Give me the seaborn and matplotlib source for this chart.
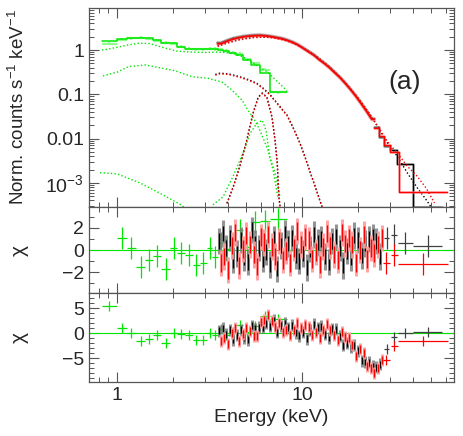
import matplotlib
matplotlib.use("Agg")
import matplotlib.pyplot as plt
import seaborn as sns
from matplotlib.ticker import FixedLocator, NullFormatter

# ---- green detector (soft band): bin edges, data, model, residuals ----
green_edges = [0.83, 1.0, 1.13, 1.27, 1.42, 1.57, 1.74, 1.93, 2.12, 2.32, 2.56, 2.81,
               3.06, 3.28, 3.5, 3.76, 4.05, 4.4, 4.8, 5.3, 5.9, 6.7, 8.3]
green_model = [1.62, 1.74, 1.87, 1.87, 1.87, 1.68, 1.42, 1.42, 1.19, 1.07, 1.07, 1.07,
               1.07, 1.07, 1.02, 0.95, 0.86, 0.78, 0.60, 0.45, 0.31, 0.115]
green_data = [1.40, 1.70, 1.85, 1.90, 1.82, 1.62, 1.45, 1.38, 1.18, 1.08, 1.05, 1.04,
              1.08, 1.06, 1.04, 0.96, 0.87, 0.82, 0.62, 0.50, 0.36, 0.11]
green_chi_a = [5.2, 1.05, 0.18, -1.58, -0.94, -0.58, -1.73, 0.18, -0.27, -0.43, -1.34, -1.18,
               0.18, -0.61, 0.6, 0.1, 0.5, 1.8, 0.3, 2.5, 2.6, 2.85]
green_chi_b = [5.46, 1.06, 0.13, -1.6, -1.07, -0.4, -1.87, 0.13, -0.13, -0.27, -1.27, -1.27,
               0.13, -0.27, 0.9, -0.4, 0.3, 1.6, 0.2, 1.5, 3.4, 2.8]

# green model components
g_tot_e = [0.83, 0.9, 1.0, 1.15, 1.3, 1.5, 1.8, 2.1, 2.5, 3.0, 3.5, 4.2, 4.8, 5.5, 6.5, 8.3]
g_tot_v = [1.0, 1.05, 1.15, 1.3, 1.42, 1.4, 1.12, 0.95, 0.9, 0.88, 0.9, 0.85, 0.7, 0.5, 0.32, 0.12]
g_cont_e = [0.84, 1.01, 1.15, 1.42, 1.75, 2.06, 2.54, 3.1, 3.69, 4.18, 4.74, 5.1, 5.5, 5.9, 6.55, 7.0, 7.4]
g_cont_v = [0.26, 0.32, 0.42, 0.46, 0.39, 0.34, 0.25, 0.23, 0.19, 0.125, 0.074, 0.044, 0.028,
            0.016, 0.0055, 0.0018, 0.00048]
g_soft_e = [0.81, 1.0, 1.33, 1.71, 2.19, 2.5]
g_soft_v = [1.7e-3, 1.6e-3, 1.0e-3, 5.8e-4, 3.3e-4, 2.2e-4]
g_line_e = [3.3, 3.74, 4.24, 4.8, 5.25, 5.7, 6.1, 6.4, 6.7, 7.15, 7.6]
g_line_v = [3.2e-4, 4.8e-4, 1.4e-3, 4.7e-3, 0.0133, 0.022, 0.026, 0.015, 3.8e-3, 1.7e-3, 4.8e-4]

# ---- hard band detectors (black / red) ----
black_edges = [3.5, 3.8, 4.1, 4.4, 4.7, 5.0, 5.4, 5.8, 6.2, 6.6, 7.0, 7.5, 8.0, 8.6, 9.2, 9.8,
               10.5, 11.2, 12.0, 12.8, 13.7, 14.6, 15.6, 16.6, 17.7, 18.9, 20.2, 21.6, 23.1,
               24.6, 26.1, 27.6, 29.9, 32.6, 39.6, 57.0]
black_vals = [1.45, 1.65, 1.84, 1.95, 2.05, 2.12, 2.17, 2.18, 2.12, 2.05, 1.95, 1.85, 1.70,
              1.52, 1.33, 1.12, 0.93, 0.78, 0.62, 0.50, 0.40, 0.31, 0.24, 0.18, 0.13, 0.092,
              0.063, 0.042, 0.028, 0.018, 0.011, 0.0068, 0.0055, 0.0027, 2.9e-4]
red_edges = [3.5, 3.8, 4.1, 4.4, 4.7, 5.0, 5.4, 5.8, 6.2, 6.6, 7.0, 7.5, 8.0, 8.6, 9.2, 9.8,
             10.5, 11.2, 12.0, 12.8, 13.7, 14.6, 15.6, 16.6, 17.7, 18.9, 20.2, 21.6, 23.1,
             24.6, 26.1, 27.6, 29.9, 33.3, 61.0]
red_vals = [1.38, 1.58, 1.76, 1.88, 1.98, 2.05, 2.10, 2.12, 2.07, 2.00, 1.90, 1.80, 1.65,
            1.48, 1.30, 1.09, 0.91, 0.76, 0.60, 0.49, 0.39, 0.30, 0.235, 0.175, 0.128, 0.090,
            0.061, 0.041, 0.027, 0.0175, 0.0115, 0.0072, 0.005, 6.3e-4]
n_fine = 29  # bins below ~24 keV are narrow enough to look like a smooth curve

# model components (hard band)
cont_e = [3.5, 4.0, 4.5, 5.0, 5.5, 6.0, 6.5, 7.0, 8.0, 9.0, 10, 11, 12, 14, 16, 18, 20, 23,
          26, 29, 33, 37, 42, 47, 52]
cont_black = [1.25, 1.5, 1.72, 1.86, 1.95, 1.99, 1.98, 1.93, 1.72, 1.45, 1.17, 0.93, 0.72,
              0.43, 0.25, 0.145, 0.085, 0.038, 0.017, 0.0078, 0.0038, 0.0017, 7.7e-4, 4.1e-4, 2.2e-4]
cont_red = [1.2, 1.45, 1.66, 1.8, 1.9, 1.94, 1.93, 1.88, 1.68, 1.42, 1.14, 0.9, 0.7, 0.42,
            0.245, 0.142, 0.084, 0.038, 0.0175, 0.0085, 0.0045, 0.0024, 1.4e-3, 7.5e-4, 3.5e-4]
soft_e = [3.4, 3.6, 4.0, 4.6, 5.2, 5.7, 6.2, 6.7, 7.6, 8.3, 9.0, 9.74, 10.4, 11.1, 11.8, 12.5, 13.0]
soft_v = [0.28, 0.30, 0.29, 0.25, 0.21, 0.177, 0.135, 0.10, 0.053, 0.034, 0.017, 0.008,
          3.8e-3, 1.7e-3, 8.2e-4, 4e-4, 2.5e-4]
fe_e = [3.93, 4.24, 4.6, 5.03, 5.43, 5.8, 6.1, 6.46, 6.88, 7.15, 7.35, 7.5, 7.7]
fe_v = [3.5e-4, 8e-4, 2.3e-3, 9.3e-3, 0.037, 0.087, 0.107, 0.087, 0.031, 0.0093, 2.8e-3, 4.8e-4, 2e-4]

# residual grid (even index = black, odd index = red)
res_e = [3.55, 3.63, 3.72, 3.80, 3.89, 3.98, 4.07, 4.16, 4.26, 4.36,
         4.46, 4.56, 4.67, 4.77, 4.88, 5.00, 5.11, 5.23, 5.35, 5.47,
         5.60, 5.73, 5.86, 6.00, 6.13, 6.27, 6.42, 6.57, 6.72, 6.87,
         7.03, 7.19, 7.36, 7.53, 7.70, 7.88, 8.06, 8.24, 8.43, 8.63,
         8.83, 9.03, 9.24, 9.45, 9.67, 9.89, 10.1, 10.35, 10.6, 10.85,
         11.1, 11.35, 11.6, 11.9, 12.15, 12.45, 12.7, 13.0, 13.3, 13.6,
         13.95, 14.25, 14.6, 14.9, 15.25, 15.6, 15.95, 16.35, 16.7, 17.1,
         17.5, 17.9, 18.3, 18.7, 19.15, 19.6, 20.05, 20.5, 21.0, 21.5,
         22.0, 22.5, 23.0, 23.5, 24.1, 24.6, 25.2, 25.8, 26.4, 27.0]
chi_a = [0.8, -1.2, 1.5, -0.6, 0.2, -1.8, 1.1, 0.4, -0.9, 1.6,
         -0.3, -1.4, 0.9, 0.1, -0.7, 1.3, -1.1, 0.5, 1.8, -0.4,
         0.6, -1.5, 0.2, 1.2, -0.8, 0.7, -0.2, 1.4, -1.3, 0.3,
         1.0, -0.6, -1.7, 0.8, 0.4, -0.9, 1.5, -0.1, 0.6, -1.2,
         1.1, 0.2, -0.5, 1.7, -1.0, 0.5, -0.3, 1.2, -1.6, 0.9,
         0.1, -0.8, 1.4, -0.2, 0.7, -1.3, 1.0, 0.3, -0.6, 1.5,
         -1.1, 0.4, 0.8, -0.4, 1.2, -0.9, 0.2, 1.6, -1.4, 0.6,
         -0.1, 1.1, -0.7, 0.5, 1.3, -1.2, 0.9, 0.0, -0.5, 1.4,
         0.6, -0.8, 1.0, 0.2, 1.2, -0.3, 0.8, 0.5, -0.6, 1.1]
chi_b = [0.5, -1.5, 1.0, -0.9, -0.2, -2.1, 0.7, 0.0, -1.3, 1.1,
         -0.4, -1.6, 0.7, -0.1, -0.9, 1.1, -1.3, 0.4, 1.5, -0.5,
         0.9, -0.5, 1.2, 2.3, 1.2, 2.6, 2.0, 3.6, 1.4, 2.5,
         2.6, 1.2, 0.2, 2.1, 1.5, 0.3, 2.0, 0.6, 1.1, -0.3,
         1.6, 0.7, 0.1, 2.1, -0.5, 1.0, 0.2, 1.6, -1.1, 1.3,
         0.6, -0.3, 1.8, 0.2, 1.1, -0.9, 1.4, 0.7, -0.2, 1.8,
         -0.9, 0.6, 0.9, -0.4, 0.8, -1.4, -0.6, 0.3, -2.4, -0.8,
         -2.0, -1.0, -2.8, -2.3, -2.4, -4.5, -3.5, -3.2, -5.5, -4.0,
         -5.7, -6.5, -5.8, -6.9, -6.6, -7.9, -6.8, -7.0, -6.2, -5.4]

# sparse high-energy residual bins
bk_hi_e = [28.7, 31.3, 36.1, 48.0]
bk_hi_lo = [27.8, 30.1, 33.0, 39.8]
bk_hi_hi = [29.6, 32.6, 39.8, 57.0]
bk_hi_a = [1.09, 1.39, 0.64, 0.33]
bk_hi_b = [-3.2, -0.73, 0.06, 0.27]
rd_hi_e = [28.6, 31.6, 45.0]
rd_hi_lo = [27.3, 30.3, 33.0]
rd_hi_hi = [30.0, 33.0, 61.5]
rd_hi_a = [-1.18, -0.43, -1.27]
rd_hi_b = [-5.4, -2.54, -1.6]

GREEN, GREEN_L = "#00e600", "#8cff8c"
RED, RED_L = "#ff0000", "#ff9a9a"
BLACK, GREY = "#000000", "#7a7a7a"

sns.set_theme(style="ticks")
plt.rcParams["font.family"] = ["Liberation Sans", "DejaVu Sans"]
plt.rcParams["mathtext.fontset"] = "custom"
plt.rcParams["mathtext.rm"] = "Liberation Sans"
plt.rcParams["mathtext.it"] = "Liberation Sans:italic"

fig = plt.figure(figsize=(4.63, 4.36), dpi=100)
ax1 = fig.add_axes([0.1922, 0.5252, 0.7884, 0.4565])
ax2 = fig.add_axes([0.1922, 0.3280, 0.7884, 0.1972])
ax3 = fig.add_axes([0.1922, 0.1239, 0.7884, 0.2041])


def steps(ax, edges, vals, color, lw, alpha=1.0):
    sns.lineplot(x=edges, y=list(vals) + [vals[-1]], ax=ax, color=color, lw=lw, alpha=alpha,
                 drawstyle="steps-post", estimator=None, sort=False)


def smooth(ax, edges, vals, color, lw, alpha=1.0):
    # narrow bins: join the bin centres
    mids = [(a * b) ** 0.5 for a, b in zip(edges[:-1], edges[1:])]
    sns.lineplot(x=[edges[0]] + mids + [edges[-1]], y=[vals[0]] + list(vals) + [vals[-1]],
                 ax=ax, color=color, lw=lw, alpha=alpha, estimator=None, sort=False)


def dotted(ax, xs, ys, color):
    sns.lineplot(x=xs, y=ys, ax=ax, color=color, lw=1.0, linestyle=(0, (1, 1.6)),
                 estimator=None, sort=False)


for ax in (ax1, ax2, ax3):
    ax.set_xscale("log")
ax1.set_yscale("log")

# ---- top panel: spectra ----
g_lo = green_edges[:-1]
g_hi = green_edges[1:]
g_mid = [(a * b) ** 0.5 for a, b in zip(g_lo, g_hi)]
g_xerr = [[m - a for m, a in zip(g_mid, g_lo)], [b - m for m, b in zip(g_mid, g_hi)]]

ax1.errorbar(g_mid, green_data, xerr=g_xerr, yerr=[v * 0.08 for v in green_data],
             fmt="none", ecolor=GREEN_L, elinewidth=1.6)
steps(ax1, green_edges, green_model, GREEN, 1.1)
dotted(ax1, g_tot_e, g_tot_v, GREEN)
dotted(ax1, g_cont_e, g_cont_v, GREEN)
dotted(ax1, g_soft_e, g_soft_v, GREEN)
dotted(ax1, g_line_e, g_line_v, GREEN)

for edges, vals, dark, pale, pale_a in ((black_edges, black_vals, BLACK, GREY, 0.5),
                                        (red_edges, red_vals, RED, RED_L, 0.6)):
    smooth(ax1, edges[:n_fine + 1], vals[:n_fine], pale, 2.6, pale_a)
    smooth(ax1, edges[:n_fine + 1], vals[:n_fine], dark, 1.2)
    steps(ax1, edges[n_fine:], vals[n_fine:], pale, 2.0, pale_a)
    steps(ax1, edges[n_fine:], vals[n_fine:], dark, 1.0)
    if dark == BLACK:
        dotted(ax1, cont_e, cont_black, BLACK)
        dotted(ax1, soft_e, soft_v, BLACK)
        dotted(ax1, fe_e, fe_v, BLACK)
dotted(ax1, cont_e, cont_red, RED)
dotted(ax1, soft_e, [v * 0.97 for v in soft_v], RED)
dotted(ax1, fe_e, [v * 0.97 for v in fe_v], RED)

ax1.set_ylim(2.85e-4, 8.9)
ax1.set_yticks([1e-3, 1e-2, 1e-1, 1])
ax1.set_yticklabels(["10$^{-3}$", "0.01", "0.1", "1"])
ax1.yaxis.set_minor_locator(FixedLocator([m * 10.0 ** k for k in range(-4, 1) for m in range(2, 10)]))
ax1.yaxis.set_minor_formatter(NullFormatter())
ax1.set_ylabel("Norm. counts s$^{-1}$ keV$^{-1}$", fontsize=13.5)
ax1.yaxis.set_label_coords(-0.167, 0.5)
ax1.text(0.866, 0.628, "(a)", transform=ax1.transAxes, fontsize=19, ha="center", va="center")

# ---- residual panels ----
bk_e = res_e[0::2]
rd_e = res_e[1::2]
for ax, chi, g_chi, bk_hi, rd_hi in ((ax2, chi_a, green_chi_a, bk_hi_a, rd_hi_a),
                                      (ax3, chi_b, green_chi_b, bk_hi_b, rd_hi_b)):
    ax.axhline(0, color=GREEN, lw=0.8, zorder=1)
    ax.errorbar(g_mid, g_chi, xerr=g_xerr, yerr=1, fmt="none", ecolor=GREEN, elinewidth=0.9)
    ax.errorbar(bk_e, chi[0::2], yerr=1.2, fmt="none", ecolor=GREY, elinewidth=2.2, alpha=0.8)
    ax.errorbar(bk_e, chi[0::2], yerr=0.7, fmt="none", ecolor=BLACK, elinewidth=1.0)
    ax.errorbar(rd_e, chi[1::2], yerr=1.2, fmt="none", ecolor=RED_L, elinewidth=2.2, alpha=0.9)
    ax.errorbar(rd_e, chi[1::2], yerr=0.8, fmt="none", ecolor=RED, elinewidth=1.0)
    ax.errorbar(bk_hi_e, bk_hi, xerr=[[m - a for m, a in zip(bk_hi_e, bk_hi_lo)],
                                      [b - m for m, b in zip(bk_hi_e, bk_hi_hi)]],
                yerr=1, fmt="none", ecolor="#404040", elinewidth=0.9)
    ax.errorbar(rd_hi_e, rd_hi, xerr=[[m - a for m, a in zip(rd_hi_e, rd_hi_lo)],
                                      [b - m for m, b in zip(rd_hi_e, rd_hi_hi)]],
                yerr=1, fmt="none", ecolor=RED, elinewidth=0.9)
    ax.set_ylabel("\u03c7", fontsize=15)
    ax.yaxis.set_label_coords(-0.164, 0.5)

ax2.set_ylim(-3.9, 3.9)
ax2.set_yticks([-2, 0, 2])
ax2.yaxis.set_minor_locator(FixedLocator([-3, -1, 1, 3]))
ax3.set_ylim(-9.7, 8.0)
ax3.set_yticks([-5, 0, 5])
ax3.yaxis.set_minor_locator(FixedLocator([v for v in range(-9, 9) if v % 5 != 0]))
ax3.set_xlabel("Energy (keV)", fontsize=14)

x_minor = [0.8, 0.9, 2, 3, 4, 5, 6, 7, 8, 9, 20, 30, 40, 50, 60]
for ax in (ax1, ax2, ax3):
    ax.set_xlim(0.706, 66.3)
    ax.xaxis.set_major_locator(FixedLocator([1, 10]))
    ax.xaxis.set_minor_locator(FixedLocator(x_minor))
    ax.xaxis.set_minor_formatter(NullFormatter())
    ax.tick_params(which="both", direction="in", top=True, right=True, labelsize=14,
                   color="#555555")
    ax.tick_params(which="major", length=7, width=0.8)
    ax.tick_params(which="minor", length=3.5, width=0.7)
    for sp in ax.spines.values():
        sp.set_color("#555555")
        sp.set_linewidth(0.9)
    if ax is not ax3:
        ax.tick_params(labelbottom=False)
        ax.set_xlabel("")
ax3.set_xticklabels(["1", "10"])

fig.savefig("out.png", dpi=100)
